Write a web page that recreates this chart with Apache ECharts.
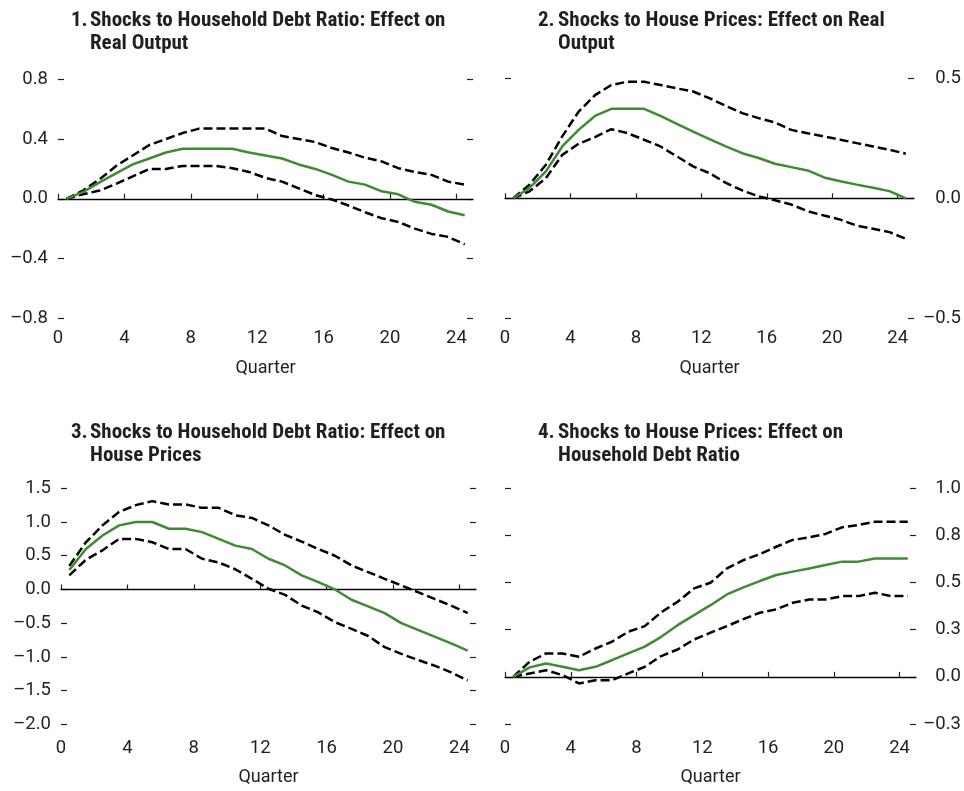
<!DOCTYPE html>
<html>
<head>
<meta charset="utf-8">
<script src="https://cdn.jsdelivr.net/npm/echarts@6/dist/echarts.min.js"></script>
<style>
html,body{margin:0;padding:0;background:#fff;}
#chart{width:964px;height:791px;}
</style>
</head>
<body>
<div id="chart"></div>
<script>
// Quarter positions (centre of each quarter 1..25)
const quarters = [0.5,1.5,2.5,3.5,4.5,5.5,6.5,7.5,8.5,9.5,10.5,11.5,12.5,13.5,14.5,15.5,16.5,17.5,18.5,19.5,20.5,21.5,22.5,23.5,24.5];
const xTickValues = [0,4,8,12,16,20,24];

// Panel 1: Shocks to Household Debt Ratio -> Real Output
const p1Mid   = [0,0.045,0.11,0.17,0.23,0.27,0.31,0.335,0.335,0.335,0.335,0.31,0.29,0.27,0.23,0.20,0.16,0.115,0.095,0.05,0.03,-0.02,-0.04,-0.085,-0.11];
const p1Upper = [0,0.055,0.13,0.22,0.29,0.36,0.40,0.44,0.47,0.47,0.47,0.47,0.47,0.42,0.40,0.38,0.34,0.31,0.275,0.25,0.205,0.18,0.16,0.115,0.095];
const p1Lower = [0,0.03,0.055,0.10,0.15,0.20,0.20,0.22,0.22,0.22,0.205,0.18,0.14,0.115,0.07,0.025,-0.005,-0.045,-0.09,-0.13,-0.155,-0.20,-0.235,-0.255,-0.305];
const p1TickValues = [-0.8,-0.4,0,0.4,0.8];
const p1TickLabels = ['\u20130.8','\u20130.4','0.0','0.4','0.8'];

// Panel 2: Shocks to House Prices -> Real Output
const p2Mid   = [0,0.043,0.112,0.216,0.285,0.343,0.373,0.373,0.373,0.343,0.31,0.278,0.247,0.216,0.188,0.168,0.144,0.13,0.116,0.087,0.071,0.057,0.044,0.03,0];
const p2Upper = [0,0.057,0.14,0.258,0.361,0.43,0.472,0.486,0.486,0.472,0.458,0.445,0.417,0.385,0.355,0.334,0.316,0.285,0.271,0.258,0.244,0.23,0.216,0.202,0.186];
const p2Lower = [0,0.029,0.084,0.181,0.227,0.255,0.288,0.271,0.244,0.216,0.175,0.133,0.105,0.064,0.033,0.008,-0.008,-0.026,-0.054,-0.072,-0.089,-0.114,-0.127,-0.141,-0.169];
const p2TickValues = [-0.5,0,0.5];
const p2TickLabels = ['\u20130.5','0.0','0.5'];

// Panel 3: Shocks to Household Debt Ratio -> House Prices
const p3Mid   = [0.29,0.60,0.80,0.95,1.0,1.0,0.90,0.90,0.85,0.75,0.65,0.60,0.455,0.356,0.208,0.109,0.0,-0.153,-0.25,-0.35,-0.50,-0.60,-0.70,-0.80,-0.906];
const p3Upper = [0.35,0.70,0.95,1.15,1.25,1.31,1.26,1.26,1.21,1.21,1.10,1.06,0.95,0.81,0.71,0.60,0.50,0.356,0.257,0.158,0.06,-0.04,-0.14,-0.24,-0.35];
const p3Lower = [0.21,0.44,0.58,0.75,0.75,0.70,0.60,0.60,0.455,0.40,0.30,0.158,0.01,-0.08,-0.24,-0.34,-0.485,-0.584,-0.69,-0.856,-0.955,-1.045,-1.13,-1.23,-1.35];
const p3TickValues = [-2,-1.5,-1,-0.5,0,0.5,1,1.5];
const p3TickLabels = ['\u20132.0','\u20131.5','\u20131.0','\u20130.5','0.0','0.5','1.0','1.5'];

// Panel 4: Shocks to House Prices -> Household Debt Ratio
const p4Mid   = [0,0.05,0.071,0.053,0.035,0.053,0.088,0.124,0.16,0.212,0.274,0.327,0.38,0.437,0.474,0.508,0.54,0.558,0.575,0.593,0.611,0.611,0.628,0.628,0.628];
const p4Upper = [0,0.08,0.124,0.124,0.106,0.15,0.186,0.239,0.269,0.342,0.398,0.469,0.499,0.575,0.619,0.651,0.69,0.726,0.74,0.758,0.793,0.805,0.823,0.823,0.823];
const p4Lower = [0,0.018,0.035,0.009,-0.035,-0.018,-0.018,0.018,0.053,0.11,0.145,0.198,0.234,0.269,0.306,0.34,0.358,0.393,0.41,0.41,0.428,0.428,0.446,0.428,0.428];
const p4TickValues = [-0.25,0,0.25,0.5,0.75,1.0];
const p4TickLabels = ['\u20130.3','0.0','0.3','0.5','0.8','1.0'];

const titleNums  = ['1.','2.','3.','4.'];
const titleTexts = [
  'Shocks to Household Debt Ratio: Effect on\nReal Output',
  'Shocks to House Prices: Effect on Real\nOutput',
  'Shocks to Household Debt Ratio: Effect on\nHouse Prices',
  'Shocks to House Prices: Effect on\nHousehold Debt Ratio'
];

const TITLE_FONT = "'Roboto Condensed','DejaVu Sans Condensed',sans-serif";
const FONT = "Roboto,'Liberation Sans',sans-serif";
const GREEN = '#3f8a33';
const INK = '#231f20';

const panels = [
  {mid:p1Mid, up:p1Upper, lo:p1Lower, tv:p1TickValues, tl:p1TickLabels, min:-0.8, max:0.8, side:'left',
   grid:{left:58, top:79.3, width:415, height:239}, titleX:[71,90], titleY:9.5, labelMargin:10},
  {mid:p2Mid, up:p2Upper, lo:p2Lower, tv:p2TickValues, tl:p2TickLabels, min:-0.5, max:0.5, side:'right',
   grid:{left:505, top:78.3, width:410, height:240}, titleX:[538,558], titleY:9.5, labelMargin:47},
  {mid:p3Mid, up:p3Upper, lo:p3Lower, tv:p3TickValues, tl:p3TickLabels, min:-2.05, max:1.5, side:'left',
   grid:{left:61, top:488.3, width:415, height:239.4}, titleX:[71,90], titleY:421, labelMargin:10},
  {mid:p4Mid, up:p4Upper, lo:p4Lower, tv:p4TickValues, tl:p4TickLabels, min:-0.27, max:1.0, side:'right',
   grid:{left:505, top:488.3, width:411.5, height:239.4}, titleX:[538,558], titleY:421, labelMargin:45}
];

const option = {
  animation:false,
  backgroundColor:'#fff',
  title:[], grid:[], xAxis:[], yAxis:[], series:[]
};

function pairs(arr){ return arr.map((v,i)=>[quarters[i], v]); }

panels.forEach((p,i)=>{
  const tStyle = {fontFamily:TITLE_FONT, fontWeight:'bold', fontSize:21, lineHeight:23, color:INK};
  option.title.push({text:titleNums[i], left:p.titleX[0], top:p.titleY, padding:0, textStyle:tStyle});
  option.title.push({text:titleTexts[i], left:p.titleX[1], top:p.titleY, padding:0, textStyle:tStyle});
  option.grid.push(Object.assign({containLabel:false}, p.grid));
  option.xAxis.push({
    type:'value', gridIndex:i, min:0, max:25,
    name:'Quarter', nameLocation:'middle', nameGap:41,
    nameTextStyle:{fontFamily:FONT, fontSize:18, color:INK},
    axisLine:{show:true, lineStyle:{color:INK, width:1.3}},
    axisTick:{show:true, inside:true, length:5, customValues:xTickValues, lineStyle:{color:INK, width:1.2}},
    axisLabel:{customValues:xTickValues, margin:11, fontFamily:FONT, fontSize:18.5, color:INK},
    splitLine:{show:false}
  });
  const fmt = v => { const k = p.tv.findIndex(t=>Math.abs(t-v)<1e-9); return k>=0 ? p.tl[k] : ''; };
  ['left','right'].forEach(pos=>{
    const showLabel = pos===p.side;
    option.yAxis.push({
      type:'value', gridIndex:i, position:pos, min:p.min, max:p.max,
      axisLine:{show:false},
      axisTick:{show:true, inside:true, length:6, customValues:p.tv, lineStyle:{color:INK, width:1.2}},
      axisLabel:{show:showLabel, customValues:p.tv, formatter:fmt, margin:p.labelMargin,
        align:'right', fontFamily:FONT, fontSize:18.5, color:INK},
      splitLine:{show:false}
    });
  });
  const yIdx = i*2 + (p.side==='left'?0:1);
  const dashStyle = {color:'#000', width:2.5, type:[9,4]};
  option.series.push({type:'line', xAxisIndex:i, yAxisIndex:yIdx, data:pairs(p.up), symbol:'none',
    lineStyle:dashStyle, silent:true, z:3});
  option.series.push({type:'line', xAxisIndex:i, yAxisIndex:yIdx, data:pairs(p.lo), symbol:'none',
    lineStyle:dashStyle, silent:true, z:3});
  option.series.push({type:'line', xAxisIndex:i, yAxisIndex:yIdx, data:pairs(p.mid), symbol:'none',
    lineStyle:{color:GREEN, width:2.5}, silent:true, z:4,
    markLine:{silent:true, symbol:'none', label:{show:false}, animation:false,
      lineStyle:{color:'#000', width:1, type:'solid'}, data:[{yAxis:0}], z:2}});
});

const chart = echarts.init(document.getElementById('chart'), null, {renderer:'canvas'});
chart.setOption(option);
</script>
</body>
</html>
